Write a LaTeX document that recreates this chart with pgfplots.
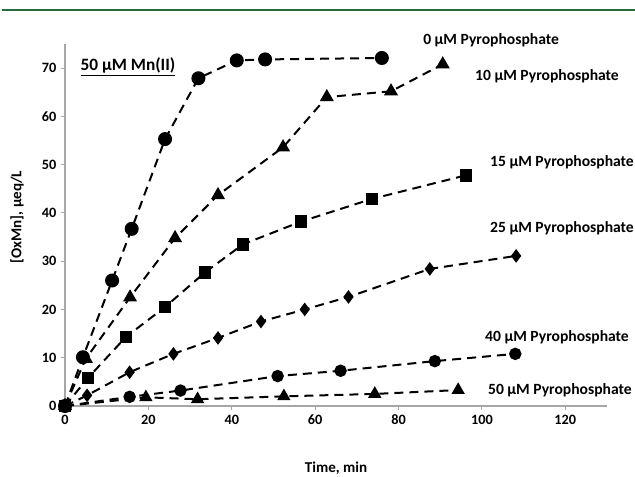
\documentclass[border=0pt]{standalone}
\usepackage{pgfplots}
\pgfplotsset{compat=1.18}
\usepackage{fontspec}
\setmainfont{Carlito}
\definecolor{topgreen}{HTML}{256B3E}
\definecolor{axgray}{HTML}{A6A6A6}
\newcommand\lbl{\fontsize{11.3}{13}\selectfont\bfseries}
\newcommand\slbl{\fontsize{11.7}{13}\selectfont\bfseries}
\newcommand\mum{\textmu M}

\begin{document}
\begin{tikzpicture}
\useasboundingbox (0,0) rectangle (476.25pt,357.75pt);
\draw[topgreen, line width=1.6pt] (1.5pt,350.25pt) -- (476.25pt,350.25pt);
\begin{axis}[
    at={(48.75pt,53.25pt)}, anchor=south west,
    scale only axis,
    width=406.5pt, height=271.5pt,
    xmin=0, xmax=130, ymin=0, ymax=75,
    xtick={0,20,...,120}, ytick={0,10,...,70},
    axis x line=bottom, axis y line=left,
    axis line style={axgray, line width=0.8pt, -},
    tick align=outside, major tick length=3pt,
    tick style={axgray, line width=0.8pt},
    every tick label/.append style={font=\fontsize{10.7}{12}\selectfont\bfseries},
    /pgf/number format/assume math mode=true,
    xlabel={Time, min},
    ylabel={[OxMn], \textmu eq/L},
    every axis x label/.style={at={(axis description cs:0.5,0)}, anchor=center, yshift=-46.5pt, font=\lbl},
    every axis y label/.style={at={(axis description cs:-0.0886,0.522)}, anchor=center, rotate=90, font=\lbl},
    clip=false,
    every axis plot/.append style={black, line width=1.5pt, dash pattern=on 6.75pt off 4.5pt},
]
% 0 uM
\addplot[mark=*, mark size=4.5pt, mark options={solid}] coordinates {
 (0,0) (4.3,10.1) (11.3,26) (16,36.7) (24,55.3) (32,67.9) (41.2,71.6) (48,71.8) (76,72.1)};
% 10 uM
\addplot[mark=triangle*, mark size=4.6pt, mark options={solid}] coordinates {
 (0,0) (5,9.8) (15.6,22.5) (26.4,34.8) (36.7,43.7) (52.3,53.6) (62.8,64) (78.2,65.2) (90.6,70.8)};
% 15 uM
\addplot[mark=square*, mark size=4pt, mark options={solid}] coordinates {
 (0,0) (5.5,5.8) (14.6,14.3) (24,20.5) (33.6,27.7) (42.7,33.5) (56.6,38.2) (73.6,42.9) (96.2,47.8)};
% 25 uM
\addplot[mark=diamond*, mark size=3.9pt, mark options={solid}] coordinates {
 (0,0) (5.3,2.2) (15.5,7) (26,10.8) (36.7,14.1) (47,17.5) (57.5,20) (68,22.6) (87.5,28.4) (108.2,31.1)};
% 40 uM
\addplot[mark=*, mark size=3.9pt, mark options={solid}] coordinates {
 (0,0) (15.5,1.9) (27.7,3.2) (51,6.2) (66.1,7.3) (88.7,9.3) (108,10.8)};
% 50 uM
\addplot[mark=triangle*, mark size=4.3pt, mark options={solid}] coordinates {
 (0,0) (19.4,1.8) (31.8,1.4) (52.5,2) (74.3,2.5) (94.3,3.3)};

\node[font=\slbl] at (axis cs:102.2,75.8) {0 \mum\ Pyrophosphate};
\node[font=\slbl] at (axis cs:115.6,68.3) {10 \mum\ Pyrophosphate};
\node[font=\slbl] at (axis cs:119.2,50.5) {15 \mum\ Pyrophosphate};
\node[font=\slbl] at (axis cs:119.2,36.9) {25 \mum\ Pyrophosphate};
\node[font=\slbl] at (axis cs:118,14.3) {40 \mum\ Pyrophosphate};
\node[font=\slbl] at (axis cs:118.7,3.3) {50 \mum\ Pyrophosphate};
\node[font=\fontsize{13}{15}\selectfont\bfseries] at (axis cs:15.1,70.2) {\underline{50 \mum\ Mn(II)}};
\end{axis}
\end{tikzpicture}
\end{document}
